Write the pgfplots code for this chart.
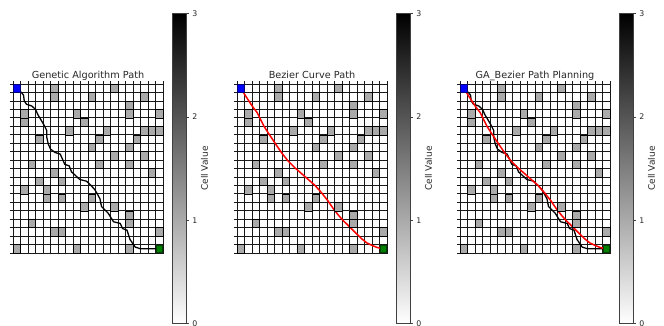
\documentclass[border=0pt]{standalone}
\usepackage{fontspec}
\setmainfont{DejaVu Sans}
\usepackage{pgfplots}
\usepackage{pgfplotstable}
\pgfplotsset{compat=1.18}
\definecolor{obst}{gray}{0.667}

% obstacle cells (column, row), row 0 = top, value 1
\pgfplotstableread{
c r
5 0
13 0
5 1
10 1
17 1
15 2
1 3
8 3
15 3
19 3
1 4
9 4
7 5
12 5
17 5
18 5
19 5
3 6
11 6
16 6
10 7
15 7
13 8
17 8
2 9
11 9
15 9
5 10
18 10
3 11
6 11
1 12
4 12
4 13
6 13
10 13
9 14
13 14
15 15
2 16
15 16
5 17
6 17
19 17
0 19
8 19
15 19
}\obstab

\pgfplotstableread{
c r
0 0
0.5 0.4
0.9 0.8
1.0 1.5
1.3 1.9
2.0 2.1
2.5 2.5
2.8 3.1
3.2 3.7
3.6 4.3
4.0 5.0
4.0 5.8
4.2 6.6
4.5 7.2
5.1 7.6
5.8 7.8
6.1 8.4
6.4 9.0
7.0 9.2
7.3 9.9
7.8 10.3
8.4 10.8
9.3 11.0
9.9 11.5
10.4 12.0
10.8 12.6
11.1 13.1
11.3 14.0
12.2 14.8
12.9 15.8
13.8 16.0
14.1 16.6
14.7 16.8
15.1 17.9
15.8 18.8
16.5 19.0
19.0 19.0
}\gapath

\pgfplotstableread{
c r
0 0
0.5 0.7
1.0 1.4
1.6 2.2
2.2 2.9
2.7 3.8
3.1 4.5
3.6 5.2
4.2 6.0
4.8 6.8
5.5 7.7
6.3 8.6
7.2 9.4
8.1 10.1
9.0 10.8
9.9 11.5
10.8 12.4
11.6 13.3
12.3 14.2
13.0 15.0
13.7 15.7
14.4 16.3
15.3 17.1
16.1 17.8
16.8 18.3
17.5 18.6
18.2 18.85
19.0 19.0
}\bzpath

\pgfplotsset{
  gridax/.style={
    width=150pt, height=169pt, scale only axis, set layers,
    xmin=-0.5, xmax=19.5, ymin=-0.5, ymax=19.5, y dir=reverse,
    xtick={-0.5,0.5,...,19.5}, ytick={-0.5,0.5,...,19.5},
    xticklabel=\empty, yticklabel=\empty,
    xtick pos=right, ytick pos=left, tick align=outside, major tick length=3pt,
    grid=major, grid style={black!90, line width=0.8pt},
    axis line style={black!90, line width=0.8pt},
    every tick/.style={black!90, line width=0.8pt},
    every axis title shift=0pt,
    title style={at={(0.5,1)}, anchor=base, yshift=5.5pt, font=\fontsize{9.7}{11}\selectfont, text=black!85},
    colormap={grayr}{gray(0cm)=(1); gray(1cm)=(0)},
    point meta min=0, point meta max=3,
    colorbar,
    colorbar shift/.style={xshift=9.5pt},
    colorbar style={
      scale only axis, width=13.3pt, height=310pt,
      at={(parent axis.east)}, anchor=west,
      y dir=normal, grid=none, xtick=\empty,
      ytick={0,1,2,3}, yticklabels={0,1,2,3}, ytick pos=right, yticklabel pos=right,
      tick align=outside, major tick length=3pt,
      axis line style={black!75, line width=0.6pt},
      every tick/.style={black!75, line width=0.6pt},
      yticklabel style={font=\fontsize{7.8}{9}\selectfont, text=black!85},
      ylabel={Cell Value},
      every axis y label/.style={at={(axis description cs:2.4,0.5)}, rotate=90, anchor=center, font=\fontsize{9}{10}\selectfont, text=black!85},
    },
  },
  cellmark/.style={only marks, on layer=axis background, mark=square*, mark size=3.75pt,
    mark options={draw=none, fill=obst, yscale=1.127}},
}

\newcommand{\drawcells}{%
  \addplot [cellmark] table [x=c, y=r] {\obstab};
  \addplot [only marks, mark=square*, mark size=3.4pt, mark options={fill=blue, draw=blue!45!black, line width=0.5pt, yscale=1.127}] coordinates {(0,0)};
  \addplot [only marks, mark=square*, mark size=3.4pt, mark options={fill=green!50!black, draw=green!25!black, line width=0.5pt, yscale=1.127}] coordinates {(19,19)};
}

\begin{document}
\begin{tikzpicture}
\begin{axis}[gridax, at={(0pt,0pt)}, title={Genetic Algorithm Path}]
\drawcells
\addplot [black, line width=1.3pt, mark=none] table [x=c, y=r] {\gapath};
\end{axis}
\begin{axis}[gridax, at={(224pt,0pt)}, title={Bezier Curve Path}]
\drawcells
\addplot [red, line width=1.5pt, mark=none] table [x=c, y=r] {\bzpath};
\end{axis}
\begin{axis}[gridax, at={(447pt,0pt)}, title={GA\_Bezier Path Planning}]
\drawcells
\addplot [black, line width=1.3pt, mark=none] table [x=c, y=r] {\gapath};
\addplot [red, line width=1.5pt, mark=none] table [x=c, y=r] {\bzpath};
\end{axis}
\pgfresetboundingbox
\path[use as bounding box] (-13pt,-72pt) rectangle (651pt,253pt);
\end{tikzpicture}
\end{document}
